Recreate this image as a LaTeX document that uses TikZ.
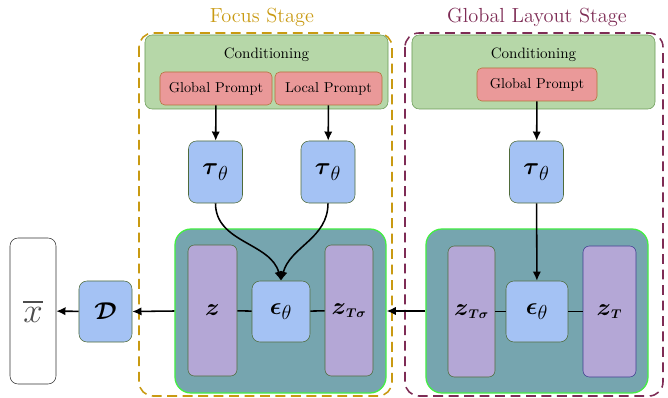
\documentclass[tikz,border=0pt]{standalone}
\usepackage{xcolor}
\usepackage{tikz}
\usetikzlibrary{shapes, arrows, arrows.meta, positioning}
\usepackage{amsmath}

\definecolor{condgreen}{HTML}{B6D7A8}
\definecolor{condline}{HTML}{6A9A55}
\definecolor{promptred}{HTML}{EA9999}
\definecolor{promptline}{HTML}{B5713A}
\definecolor{netblue}{HTML}{A4C2F4}
\definecolor{netline}{HTML}{4F6B3A}
\definecolor{denteal}{HTML}{76A5AF}
\definecolor{denline}{HTML}{44EE44}
\definecolor{latpurple}{HTML}{B4A7D6}
\definecolor{latline}{HTML}{4F6B3A}
\definecolor{latblue}{HTML}{3F3F8F}
\definecolor{focusgold}{HTML}{C99A12}
\definecolor{globalred}{HTML}{7E2C55}

\tikzset{
	stagebox/.style={dash pattern=on 7pt off 4pt, line width=1.1pt, rounded corners=3.5mm},
	stagetitle/.style={font=\fontsize{14.5}{17}\selectfont, inner sep=0pt},
	condbox/.style={draw=condline, fill=condgreen, rounded corners=1.8mm, minimum width=60.75mm, minimum height=18.5mm, inner sep=0pt},
	condtext/.style={font=\fontsize{10.7}{13}\selectfont, inner sep=0pt},
	promptbox/.style={draw=promptline, fill=promptred, rounded corners=1.2mm, minimum height=8.25mm, inner sep=0pt, font=\fontsize{10.2}{12}\selectfont},
	netbox/.style={draw=netline, fill=netblue, rounded corners=2mm, minimum height=15.5mm, minimum width=13.5mm, inner sep=0pt, font=\fontsize{19}{22}\selectfont},
	denbox/.style={draw=denline, line width=0.9pt, fill=denteal, rounded corners=4mm, minimum height=41mm, inner sep=0pt},
	latbar/.style={draw=latline, fill=latpurple, rounded corners=1.6mm, minimum height=32.75mm, inner sep=0pt, font=\fontsize{19}{22}\selectfont},
	arr/.style={-{Latex[length=2.3mm, width=2.1mm]}, line width=1.1pt, black},
	link/.style={line width=1.1pt, black}
}

\begin{document}
\begin{tikzpicture}[x=0.25mm, y=-0.25mm]
	\useasboundingbox (0,0) rectangle (668,398);

	% stages
	\draw[stagebox, draw=focusgold] (139,33) rectangle (392,396);
	\draw[stagebox, draw=globalred] (405,33) rectangle (663,396);
	\node[stagetitle, text=focusgold] (focustitle) at (262,17) {Focus Stage};
	\node[stagetitle, text=globalred] (globaltitle) at (537,17) {Global Layout Stage};

	% focus stage
	\node[condbox] (condF) at (266.5,72) {};
	\node[condtext] (condFtext) at (266.5,55) {Conditioning};
	\node[promptbox, minimum width=28mm] (gpF) at (216,88.5) {Global Prompt};
	\node[promptbox, minimum width=26.75mm] (lpF) at (328.5,88.5) {Local Prompt};
	\node[netbox] (tauF1) at (215.5,172) {$\boldsymbol{\tau}_{\theta}$};
	\node[netbox] (tauF2) at (328,172) {$\boldsymbol{\tau}_{\theta}$};
	\node[denbox, minimum width=52.75mm] (denF) at (280.5,311) {};
	\node[latbar, minimum width=12.25mm] (zF) at (212.5,310.5) {$\boldsymbol{z}$};
	\node[latbar, minimum width=12mm] (zTsF) at (349,310.5) {$\boldsymbol{z}_{\scriptscriptstyle\boldsymbol{T\sigma}}$};
	\node[netbox, minimum width=14.5mm, minimum height=15.25mm] (epsF) at (281,311.5) {$\boldsymbol{\epsilon}_{\theta}$};

	% global layout stage
	\node[condbox] (condG) at (533.5,72) {};
	\node[condtext] (condGtext) at (533.5,55) {Conditioning};
	\node[promptbox, minimum width=30mm] (gpG) at (537,84.5) {Global Prompt};
	\node[netbox] (tauG) at (536.5,172) {$\boldsymbol{\tau}_{\theta}$};
	\node[denbox, minimum width=55.5mm] (denG) at (537,311) {};
	\node[latbar, minimum width=11.75mm] (zTsG) at (471.5,311.5) {$\boldsymbol{z}_{\scriptscriptstyle\boldsymbol{T\sigma}}$};
	\node[latbar, draw=latblue, minimum width=13.25mm] (zTG) at (609.5,311.5) {$\boldsymbol{z}_{\scriptscriptstyle\boldsymbol{T}}$};
	\node[netbox, minimum width=15.5mm, minimum height=15.25mm] (epsG) at (537,311.5) {$\boldsymbol{\epsilon}_{\theta}$};

	% decoder and output
	\node[netbox, minimum width=13.25mm, minimum height=15.25mm] (dec) at (105.5,311.5) {$\boldsymbol{\mathcal{D}}$};
	\node[draw=black!80, fill=white, rounded corners=2mm, minimum width=11.5mm, minimum height=36.5mm, inner sep=0pt, text=black!70, font=\fontsize{24}{28}\selectfont] (xbar) at (33,311) {$\overline{x}$};

	% connectors
	\draw[arr] (gpF) -- (tauF1);
	\draw[arr] (lpF) -- (tauF2);
	\draw[arr] (tauF1.south) to[out=-90, in=105] (epsF.north);
	\draw[arr] (tauF2.south) to[out=-90, in=75] (epsF.north);
	\draw[link] (zF) -- (epsF);
	\draw[link] (epsF) -- (zTsF);
	\draw[arr] (gpG) -- (tauG);
	\draw[arr] (tauG) -- (epsG);
	\draw[link] (zTsG) -- (epsG);
	\draw[link] (epsG) -- (zTG);
	\draw[arr] (denG.west) -- (denF.east);
	\draw[arr] (denF.west) -- (dec.east);
	\draw[arr] (dec) -- (xbar);
\end{tikzpicture}
\end{document}
